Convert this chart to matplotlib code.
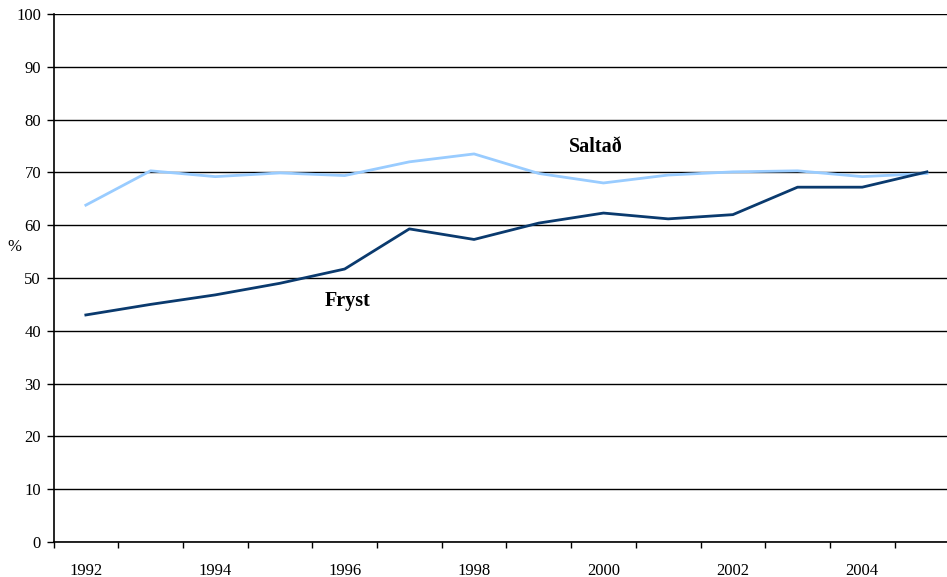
import matplotlib.pyplot as plt
import numpy as np

# data
years = [1992, 1993, 1994, 1995, 1996, 1997, 1998, 1999, 2000, 2001, 2002, 2003, 2004, 2005]
saltad = [63.8, 70.3, 69.2, 69.9, 69.4, 72.0, 73.5, 69.8, 68.0, 69.5, 70.1, 70.3, 69.2, 69.8]
fryst = [43.0, 45.0, 46.8, 49.0, 51.7, 59.3, 57.3, 60.4, 62.3, 61.2, 62.0, 67.2, 67.2, 70.1]
year_labels = ['1992', '', '1994', '', '1996', '', '1998', '', '2000', '', '2002', '', '2004', '']

plt.rcParams['font.family'] = ['Liberation Serif', 'DejaVu Serif']

fig = plt.figure(figsize=(9.47, 5.77), dpi=100)
ax = fig.add_axes([53.5 / 947, 35 / 577, 905.8 / 947, 528 / 577])

x = np.arange(len(years))
ax.plot(x, saltad, color='#99CCFF', lw=2)
ax.plot(x, fryst, color='#0A3A6E', lw=2)

ax.set_xlim(-0.5, len(years) - 0.5)
ax.set_ylim(0, 100)
ax.set_yticks(range(0, 101, 10))
ax.yaxis.grid(True, color='black', lw=1)
ax.set_axisbelow(True)

ax.set_xticks(x)
ax.set_xticklabels(year_labels)
ax.set_xticks(np.arange(-0.5, len(years), 1), minor=True)
ax.tick_params(axis='x', which='major', length=0, pad=15, labelsize=12)
ax.tick_params(axis='x', which='minor', length=4, width=1, direction='out')
ax.tick_params(axis='y', length=5, width=1, labelsize=12, pad=4)

for s in ['top', 'right']:
    ax.spines[s].set_visible(False)
for s in ['left', 'bottom']:
    ax.spines[s].set_linewidth(1.2)

fig.text(14 / 947, 1 - 247 / 577, '%', fontsize=12, ha='center', va='center')

ax.text(7.88, 74.8, 'Saltað', fontsize=14.5, fontweight='bold', ha='center', va='center')
ax.text(4.05, 45.6, 'Fryst', fontsize=14.5, fontweight='bold', ha='center', va='center')

fig.savefig('out.png', dpi=100)
